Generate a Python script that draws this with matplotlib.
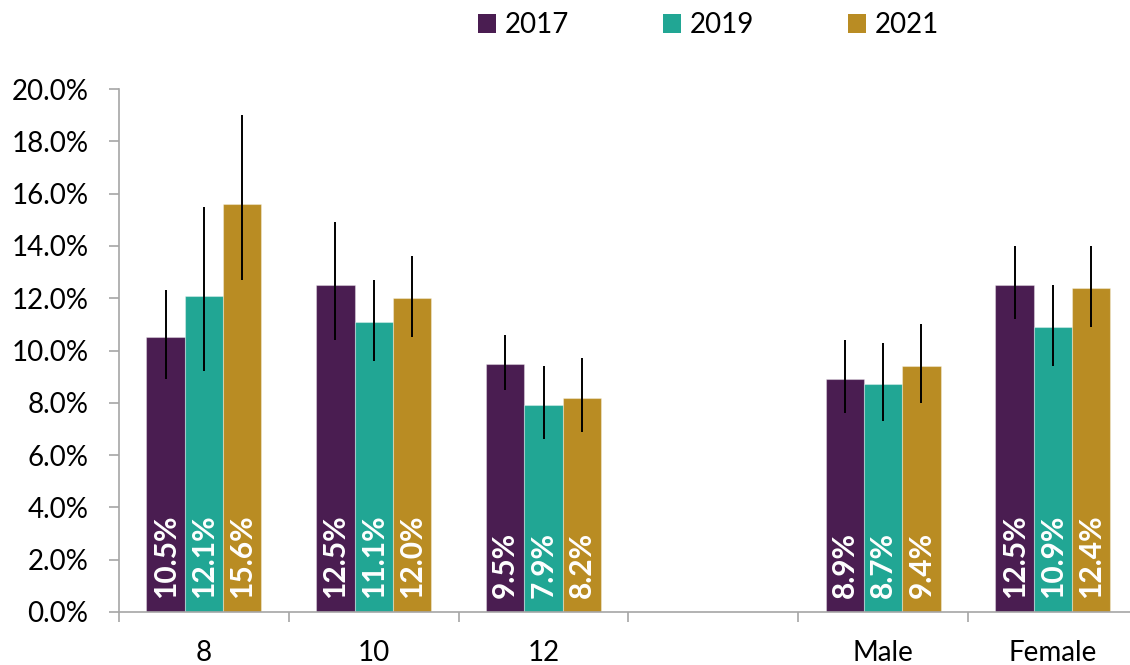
import matplotlib
matplotlib.use("Agg")
import matplotlib.pyplot as plt
from matplotlib.patches import Patch
from matplotlib.ticker import FixedLocator, PercentFormatter
import numpy as np

# Prevalence (%) by grade and sex, three survey years
categories = ["8", "10", "12", "", "Male", "Female"]
years = ["2017", "2019", "2021"]

values_2017 = [10.5, 12.5, 9.5, None, 8.9, 12.5]
values_2019 = [12.1, 11.1, 7.9, None, 8.7, 10.9]
values_2021 = [15.6, 12.0, 8.2, None, 9.4, 12.4]

# 95% confidence interval bounds
lower_2017 = [8.9, 10.4, 8.5, None, 7.6, 11.2]
upper_2017 = [12.3, 14.9, 10.6, None, 10.4, 14.0]
lower_2019 = [9.2, 9.6, 6.6, None, 7.3, 9.4]
upper_2019 = [15.5, 12.7, 9.4, None, 10.3, 12.5]
lower_2021 = [12.7, 10.5, 6.9, None, 8.0, 10.9]
upper_2021 = [19.0, 13.6, 9.7, None, 11.0, 14.0]

colors = ["#4A1D51", "#21A694", "#B98C23"]
axis_gray = "#A6A6A6"

plt.rcParams["font.family"] = ["Lato", "DejaVu Sans"]

fig = plt.figure(figsize=(11.3, 6.65), dpi=100)
ax = fig.add_axes([119 / 1130, 1 - 612 / 665, 1 - 119 / 1130, (612 - 89) / 665])

series = [
    (values_2017, lower_2017, upper_2017),
    (values_2019, lower_2019, upper_2019),
    (values_2021, lower_2021, upper_2021),
]

bar_w = 0.2257
x = np.arange(len(categories))
for i, (vals, lo, hi) in enumerate(series):
    offset = (i - 1) * bar_w
    for j, v in enumerate(vals):
        if v is None:
            continue
        xc = x[j] + offset
        ax.bar(xc, v, width=bar_w, color=colors[i],
               edgecolor=(1, 1, 1, 0.35), linewidth=0.8, zorder=2)
        ax.plot([xc, xc], [lo[j], hi[j]], color="black", lw=1.4,
                solid_capstyle="butt", zorder=3)
        ax.annotate(f"{v:.1f}%", xy=(xc, 0), xytext=(0, 10),
                    textcoords="offset points", rotation=90,
                    ha="center", va="bottom", color="white",
                    fontsize=21.5, fontweight="bold", zorder=4)

ax.set_ylim(0, 20)
ax.set_xlim(-0.5, -0.5 + (1130 - 119) / 169.8)
ax.yaxis.set_major_locator(FixedLocator(np.arange(0, 20.01, 2)))
ax.yaxis.set_major_formatter(PercentFormatter(decimals=1))

# category boundaries as ticks, names centred between them
ax.xaxis.set_major_locator(FixedLocator(np.arange(-0.5, 6.0, 1.0)))
ax.xaxis.set_major_formatter(plt.NullFormatter())
ax.xaxis.set_minor_locator(FixedLocator(x))
ax.set_xticklabels(categories, minor=True)

ax.tick_params(axis="y", direction="out", length=7, width=1.2,
               color=axis_gray, labelsize=20, pad=15)
ax.tick_params(axis="x", which="major", direction="out", length=7,
               width=1.2, color=axis_gray)
ax.tick_params(axis="x", which="minor", length=0, labelsize=20, pad=20)

for s in ("top", "right"):
    ax.spines[s].set_visible(False)
for s in ("left", "bottom"):
    ax.spines[s].set_color(axis_gray)
    ax.spines[s].set_linewidth(1.2)

handles = [Patch(facecolor=c, edgecolor="none") for c in colors]
fig.legend(handles, years, loc="center", bbox_to_anchor=(0.627, 0.962),
           ncol=3, frameon=False, fontsize=20, handlelength=0.65,
           handleheight=0.65, handletextpad=0.3, columnspacing=3.4)

fig.savefig("out.png", dpi=100)
